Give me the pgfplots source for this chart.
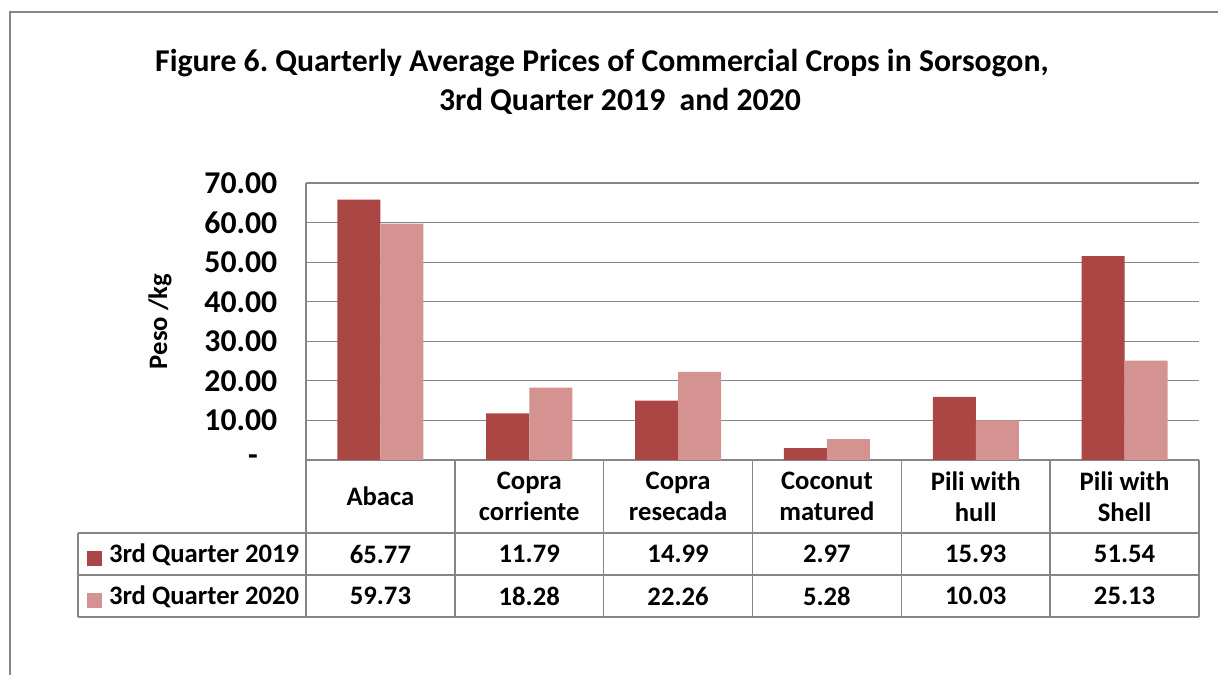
\documentclass[border=0pt]{standalone}
\usepackage{pgfplots}
\pgfplotsset{compat=1.18}
\usepackage{fontspec}
\setmainfont{Carlito}
\frenchspacing
\definecolor{dark}{HTML}{AA4744}
\definecolor{light}{HTML}{D49391}
\definecolor{gridgray}{HTML}{868686}
\begin{document}
\begin{tikzpicture}
\path[use as bounding box] (0,0) rectangle (913.5pt,506.25pt);
\draw[gridgray, line width=1pt] (7.5pt,0) -- (7.5pt,497.25pt) -- (913.5pt,497.25pt);
\node[anchor=base, inner sep=0pt, font=\fontsize{23.8}{28}\selectfont\bfseries] at (451.5pt,452.25pt) {Figure 6. Quarterly Average Prices of Commercial Crops in Sorsogon,};
\node[anchor=base, inner sep=0pt, font=\fontsize{23.8}{28}\selectfont\bfseries] at (465pt,423pt) {3rd Quarter 2019 \ and 2020};
\begin{axis}[
  at={(229.5pt,161.25pt)}, anchor=south west,
  scale only axis, width=669.75pt, height=207.75pt,
  xmin=-0.5, xmax=5.5, ymin=0, ymax=70,
  ybar=0pt, bar width=32.25pt,
  xtick={0,...,5},
  xticklabels={Abaca,{Copra\\corriente},{Copra\\resecada},{Coconut\\matured},{Pili with\\hull},{Pili with\\Shell}},
  xticklabel style={align=center, anchor=center, yshift=-27.4pt, font=\fontsize{20}{23.5}\selectfont\bfseries},
  ytick={0,10,...,70},
  yticklabels={{-\rule{14.5pt}{0pt}},10.00,20.00,30.00,40.00,50.00,60.00,70.00},
  yticklabel style={anchor=east, xshift=-18pt, font=\fontsize{23.8}{28}\selectfont\bfseries},
  major tick length=0pt,
  axis x line=bottom, axis y line=left,
  axis line style={-, draw=gridgray, line width=1pt},
  ymajorgrids, grid style={draw=gridgray, line width=0.9pt},
  ylabel={Peso /kg},
  ylabel style={at={(axis description cs:0,0.5)}, anchor=center, rotate=0, yshift=109.5pt, font=\fontsize{20}{24}\selectfont\bfseries},
  clip=false,
  legend entries={3rd Quarter 2019, 3rd Quarter 2020},
  legend cell align=left,
  legend image code/.code={\fill[#1] (0pt,0.3pt) rectangle (11.25pt,11.55pt);},
  legend style={at={(axis cs:-1.971,-21.50)}, anchor=north west, draw=none, fill=none,
    inner sep=0pt, outer sep=0pt, row sep=0pt,
    font=\fontsize{20}{23.5}\selectfont\bfseries,
    nodes={inner sep=0pt, text height=13pt, text depth=18.5pt},
    /tikz/every odd column/.append style={column sep=5.25pt}},
]
\addplot[fill=dark, draw=none] coordinates {(0,65.77) (1,11.79) (2,14.99) (3,2.97) (4,15.93) (5,51.54)};
\addplot[fill=light, draw=none] coordinates {(0,59.73) (1,18.28) (2,22.26) (3,5.28) (4,10.03) (5,25.13)};
% data table grid
\draw[gridgray, line width=1.1pt] (axis cs:-2.032,-18.47) -- (axis cs:5.5,-18.47);
\draw[gridgray, line width=1.1pt] (axis cs:-2.032,-29.09) -- (axis cs:5.5,-29.09);
\draw[gridgray, line width=1.1pt] (axis cs:-2.032,-39.72) -- (axis cs:5.5,-39.72);
\draw[gridgray, line width=1.1pt] (axis cs:-2.032,-18.47) -- (axis cs:-2.032,-39.72);
\pgfplotsinvokeforeach{-0.5,0.5,1.5,2.5,3.5,4.5,5.5}{
  \draw[gridgray, line width=1.1pt] (axis cs:#1,0) -- (axis cs:#1,-39.72);
}
\begin{scope}[every node/.style={font=\fontsize{20}{23.5}\selectfont\bfseries, inner sep=0pt}]
\node at (axis cs:0,-23.78) {65.77};
\node at (axis cs:1,-23.78) {11.79};
\node at (axis cs:2,-23.78) {14.99};
\node at (axis cs:3,-23.78) {2.97};
\node at (axis cs:4,-23.78) {15.93};
\node at (axis cs:5,-23.78) {51.54};
\node at (axis cs:0,-34.40) {59.73};
\node at (axis cs:1,-34.40) {18.28};
\node at (axis cs:2,-34.40) {22.26};
\node at (axis cs:3,-34.40) {5.28};
\node at (axis cs:4,-34.40) {10.03};
\node at (axis cs:5,-34.40) {25.13};
\end{scope}
\end{axis}
\end{tikzpicture}
\end{document}
